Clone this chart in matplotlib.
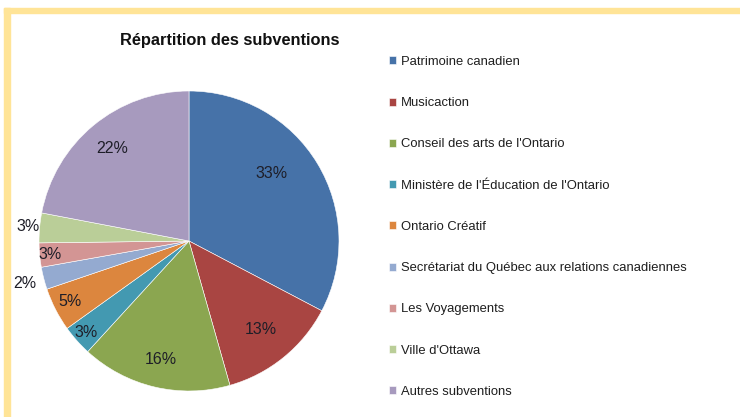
import numpy as np
import matplotlib
matplotlib.use("Agg")
import matplotlib.pyplot as plt
from matplotlib.patches import Rectangle

plt.rcParams['font.family'] = ['Liberation Sans', 'DejaVu Sans']

# données
categories = ["Patrimoine canadien", "Musicaction", "Conseil des arts de l'Ontario",
              "Ministère de l'Éducation de l'Ontario", "Ontario Créatif",
              "Secrétariat du Québec aux relations canadiennes", "Les Voyagements",
              "Ville d'Ottawa", "Autres subventions"]
parts = [32.7, 12.9, 16.2, 3.3, 4.7, 2.4, 2.6, 3.2, 22.0]

couleurs = ["#4672A8", "#A94542", "#8BA650", "#4399B1", "#DC863E",
            "#94AAD0", "#D39594", "#BACE98", "#A79ABE"]
# placement des étiquettes (rayon relatif, décalage d'angle)
lab_r = [0.71, 0.76, 0.81, 0.92, 0.89, 1.13, 0.93, 1.08, 0.80]
lab_da = [8, 0, 0, 0, 0, 0, 0, 0, 0]

W, H = 740, 417
fig = plt.figure(figsize=(W / 100, H / 100), dpi=100)
fig.patch.set_facecolor("white")

# cadre jaune
jaune = "#FFE497"
fig.patches.append(Rectangle((4 / W, 0), 6 / W, 1 - 8 / H, transform=fig.transFigure,
                             color=jaune, zorder=0))
fig.patches.append(Rectangle((4 / W, 1 - 13 / H), 1, 5 / H, transform=fig.transFigure,
                             color=jaune, zorder=0))

cx, cy, R = 189, 241, 150
ax = fig.add_axes([(cx - R) / W, (H - cy - R) / H, 2 * R / W, 2 * R / H])
wedges, _ = ax.pie(parts, colors=couleurs, startangle=90, counterclock=False,
                   wedgeprops=dict(edgecolor="white", linewidth=0.4))
ax.set_xlim(-1, 1)
ax.set_ylim(-1, 1)
ax.set_aspect("equal")
ax.axis("off")

tot = sum(parts)
for w, v, r, da in zip(wedges, parts, lab_r, lab_da):
    a = np.deg2rad((w.theta1 + w.theta2) / 2 + da)
    ax.text(r * np.cos(a), r * np.sin(a), "%d%%" % round(100 * v / tot),
            ha="center", va="center", fontsize=11.5, color="#1E1E28", clip_on=False)

fig.text(230 / W, 1 - 41 / H, "Répartition des subventions", ha="center", va="center",
         fontsize=11.8, fontweight="bold", color="#111111")

fig.legend(wedges, categories, loc="upper left",
           bbox_to_anchor=(389 / W, 1 - 56 / H), frameon=False,
           fontsize=9.4, labelspacing=2.24, handlelength=0.56, handleheight=0.56,
           handletextpad=0.36, borderpad=0, borderaxespad=0, labelcolor="#1E1E1E")

fig.savefig("out.png", dpi=100)
